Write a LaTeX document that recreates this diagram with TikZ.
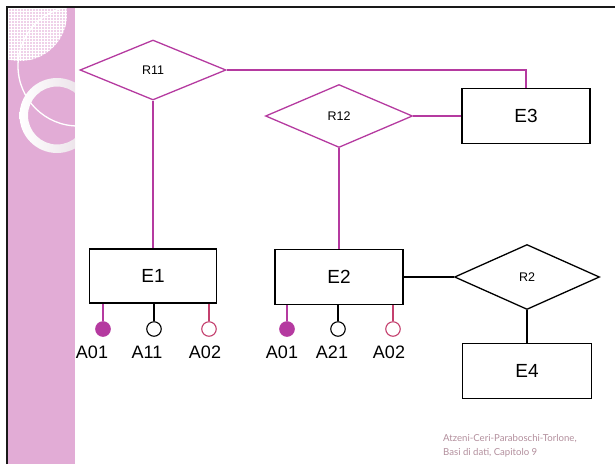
\documentclass[tikz,border=0pt]{standalone}
\usepackage{fontspec}
\setmainfont{Liberation Sans}
\newfontfamily\notefont{Lato}
\usetikzlibrary{shapes.geometric,positioning}
\definecolor{strip}{RGB}{226,172,214}
\definecolor{plum}{RGB}{181,58,160}
\definecolor{rose}{RGB}{196,64,110}
\definecolor{note}{RGB}{178,142,156}
\tikzset{
  ent/.style={draw,line width=1.6pt,minimum width=128pt,minimum height=55pt,inner sep=0pt,font=\fontsize{19}{22}\selectfont},
  rel/.style={diamond,draw,line width=1.3pt,inner sep=0pt,font=\fontsize{12.5}{14}\selectfont},
  lnk/.style={line width=1.2pt},
  att/.style={circle,draw,line width=1.1pt,inner sep=0pt,minimum size=14.5pt},
  attlab/.style={font=\fontsize{18}{20}\selectfont},
  foot/.style={font=\notefont\fontsize{9.6}{14}\selectfont,text=note,align=left,inner sep=0pt}
}

\begin{document}
\begin{tikzpicture}[x=1pt,y=-1pt]
  \useasboundingbox (0,0) rectangle (615,464);
  % slide strip on the left
  \fill[strip] (8,8) rectangle (75,464);
  \begin{scope}
    \clip (8,8) rectangle (75,464);
    \begin{scope}
      \clip (20,14) circle (47);
      \fill[strip!55!white] (8,8) rectangle (75,70);
      \foreach \g in {8,11,...,74}
        \draw[white,line width=0.5pt] (\g,8) -- (\g,70) (8,\g) -- (75,\g);
    \end{scope}
    \draw[white,line width=1.3pt] (78,66) circle (60);
    \shade[even odd rule,left color=white,right color=strip!60!gray!35!white]
      (57,115.5) circle (37.5) (57,115.5) circle (29);
  \end{scope}
  \draw[line width=2.4pt,black!90] (7,464) -- (7,7) -- (615,7);

  % entities and relationships
  \node[rel,plum,text=black,minimum width=146pt,minimum height=60pt] (R11) at (153,70) {R11};
  \node[rel,plum,text=black,minimum width=147pt,minimum height=63pt] (R12) at (339,116) {R12};
  \node[rel,minimum width=145pt,minimum height=65pt] (R2) at (527,277) {R2};
  \node[ent,minimum width=127pt,minimum height=54pt] (E1) at (153,276) {E1};
  \node[ent] (E2) at (339,277) {E2};
  \node[ent] (E3) at (526,116) {E3};
  \node[ent,minimum width=129pt] (E4) at (527,371) {E4};

  \draw[lnk,plum] (R11.south) -- (E1.north);
  \draw[lnk,plum] (R11.east) -| (E3.north);
  \draw[lnk,plum] (R12.east) -- (E3.west);
  \draw[lnk,plum] (R12.south) -- (E2.north);
  \draw[lnk] (E2.east) -- (R2.west);
  \draw[lnk] (R2.south) -- (E4.north);

  % attributes
  \foreach \nm/\cx/\lx/\col/\fil/\txt [count=\i] in {E1/103/92/plum/plum/A01, E1/154/147/black/white/A11,
      E1/209/205/rose/white/A02, E2/287/282/plum/plum/A01, E2/338/332/black/white/A21, E2/393/389/rose/white/A02}
  {
    \node[att,draw=\col,fill=\fil] (a\i) at (\cx,329) {};
    \draw[lnk,\col] (a\i) -- (a\i |- \nm.south);
    \node[attlab] (l\i) at (\lx,352.5) {\txt};
  }

  \node[foot,anchor=north west] (src) at (443,434) {Atzeni-Ceri-Paraboschi-Torlone,\\Basi di dati, Capitolo 9};
\end{tikzpicture}
\end{document}
